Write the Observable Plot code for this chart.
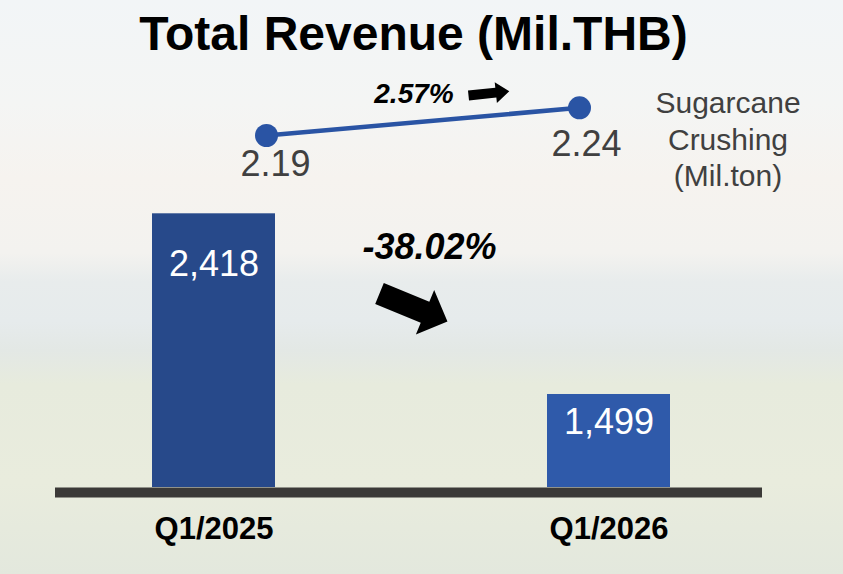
<!DOCTYPE html>
<html><head><meta charset="utf-8">
<script src="https://cdn.jsdelivr.net/npm/d3@7"></script>
<script src="https://cdn.jsdelivr.net/npm/@observablehq/plot@0.6"></script>
<style>
body{margin:0;}
#wrap{position:relative;width:843px;height:574px;overflow:hidden;
background:linear-gradient(to bottom,#f2f5f7 0%,#f4f5f4 18%,#f6f3ef 31%,#f3f2ef 44%,#e8ecec 49%,#e6ebec 56%,#e3e8e5 61%,#e7ebdd 67%,#e9ecdd 84%,#e3e8dd 100%);
font-family:"Liberation Sans",Arial,sans-serif;}
#title{position:absolute;left:-8px;top:10px;width:843px;text-align:center;font-size:48px;line-height:48px;font-weight:bold;color:#000;}
#wrap svg{position:absolute;left:0;top:0;background:none;}
</style></head>
<body><div id="wrap"><div id="title">Total Revenue (Mil.THB)</div></div>
<script>
// ---- data ----
const quarters = ["Q1/2025", "Q1/2026"];
const revenue = [2418, 1499];             // Mil.THB
const revenueLabels = ["2,418", "1,499"];
const crushing = [2.19, 2.24];            // Mil.ton
const crushingLabels = ["2.19", "2.24"];
const revenueChange = "-38.02%";
const crushingChange = "2.57%";
const legendLines = ["Sugarcane", "Crushing", "(Mil.ton)"];
const barColors = ["#27498a", "#2f5aaa"];
const lineColor = "#2a54a4";
const revenueAxisMin = 1026;

const rev = quarters.map((q, i) => ({q, v: revenue[i], label: revenueLabels[i], color: barColors[i], i}));
const cr = quarters.map((q, i) => ({q, v: crushing[i], label: crushingLabels[i], i}));

const font = "Liberation Sans, Arial, sans-serif";

// block arrow shape for vectors
const blockArrow = {
  draw(context, l, r) {
    const b = r * 0.47, hl = l * 0.33;
    context.moveTo(-b, 0);
    context.lineTo(-b, -(l - hl));
    context.lineTo(-r, -(l - hl));
    context.lineTo(0, -l);
    context.lineTo(r, -(l - hl));
    context.lineTo(b, -(l - hl));
    context.lineTo(b, 0);
    context.closePath();
  }
};

const bars = Plot.plot({
  width: 843, height: 574,
  marginLeft: 55, marginRight: 81, marginTop: 0, marginBottom: 87,
  style: {background: "transparent", fontFamily: font, overflow: "visible"},
  x: {domain: quarters, paddingInner: 0.689, paddingOuter: 0.238, align: 0.513, axis: null},
  y: {domain: [revenueAxisMin, revenue[0]], range: [487, 213.3], axis: null},
  color: {type: "identity"},
  marks: [
    Plot.barY(rev, {x: "q", y1: revenueAxisMin, y2: "v", fill: "color"}),
    Plot.ruleY([revenueAxisMin], {stroke: "#3b3937", strokeWidth: 10, dy: 5}),
    Plot.text(rev.filter(d => d.i === 0), {x: "q", y: "v", text: "label", dy: 51, fill: "white", fontSize: 36}),
    Plot.text(rev.filter(d => d.i === 1), {x: "q", y: "v", text: "label", dy: 28, fill: "white", fontSize: 36}),
    Plot.text(quarters, {x: d => d, frameAnchor: "bottom", lineAnchor: "middle", dy: 42, text: d => d, fontSize: 31, fontWeight: "bold", fill: "black"})
  ]
});

const line = Plot.plot({
  width: 843, height: 574, margin: 0,
  style: {background: "transparent", fontFamily: font, overflow: "visible"},
  x: {domain: quarters, type: "point", padding: 0, range: [265.7, 579.5], axis: null},
  y: {domain: crushing, range: [135, 107.3], axis: null},
  marks: [
    Plot.line(cr, {x: "q", y: "v", stroke: lineColor, strokeWidth: 4.5}),
    Plot.dot(cr, {x: "q", y: "v", r: 11.5, fill: lineColor}),
    Plot.text(cr.filter(d => d.i === 0), {x: "q", y: "v", text: "label", dx: 9, dy: 29, fontSize: 36, fill: "#404040"}),
    Plot.text(cr.filter(d => d.i === 1), {x: "q", y: "v", text: "label", dx: 7, dy: 36.5, fontSize: 36, fill: "#404040"}),
    Plot.text([crushingChange], {frameAnchor: "top-left", textAnchor: "middle", lineAnchor: "middle", dx: 413.5, dy: 94, text: d => d, fontSize: 28, fontWeight: "bold", fontStyle: "italic", fill: "black"}),
    Plot.vector([crushingChange], {frameAnchor: "top-left", dx: 468, dy: 95, anchor: "start", length: 41, r: 10.5, rotate: 84, shape: blockArrow, fill: "black", stroke: "none"}),
    Plot.text([revenueChange], {frameAnchor: "top-left", textAnchor: "middle", lineAnchor: "middle", dx: 429, dy: 247, text: d => d, fontSize: 36, fontWeight: "bold", fontStyle: "italic", fill: "black"}),
    Plot.vector([revenueChange], {frameAnchor: "top-left", dx: 379, dy: 293, anchor: "start", length: 73.5, r: 24, rotate: 112.4, shape: blockArrow, fill: "black", stroke: "none"}),
    Plot.text([legendLines.join("\n")], {frameAnchor: "top-left", textAnchor: "middle", dx: 727.5, dy: 86.7, lineAnchor: "top", lineHeight: 1.22, text: d => d, fontSize: 30, fill: "#404040"})
  ]
});

const wrap = document.getElementById("wrap");
wrap.appendChild(bars);
wrap.appendChild(line);
</script>
</body></html>
